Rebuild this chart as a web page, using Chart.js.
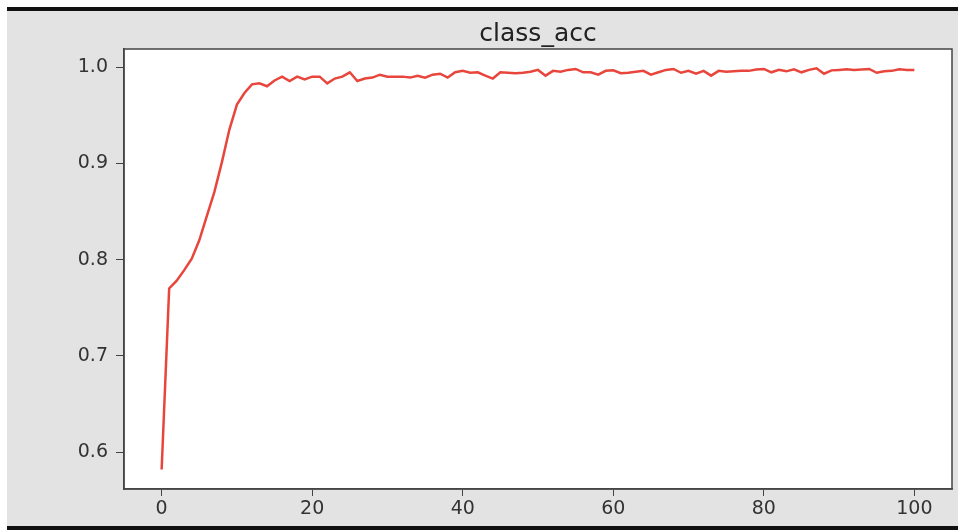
<!DOCTYPE html>
<html>
<head>
<meta charset="utf-8">
<script src="https://cdn.jsdelivr.net/npm/chart.js@4"></script>
<style>
  body { margin: 0; background: #fff; }
  #frame { position: absolute; left: 7px; top: 7px; width: 951px; height: 523px; box-sizing: border-box;
           background: #e3e3e3; border-top: 4px solid #111; border-bottom: 4px solid #111; }
  #myChart { position: absolute; left: 0; top: 0; }
</style>
</head>
<body>
<div id="frame"></div>
<canvas id="myChart" width="958" height="530"></canvas>
<script>
// class_acc per epoch (0..100)
var classAcc = [
  0.582, 0.770, 0.778, 0.789, 0.801, 0.820, 0.845, 0.870, 0.901, 0.935,
  0.961, 0.973, 0.982, 0.983, 0.980, 0.986, 0.990, 0.9855, 0.990, 0.987,
  0.990, 0.990, 0.983, 0.988, 0.990, 0.9945, 0.9855, 0.988, 0.989, 0.992,
  0.990, 0.990, 0.990, 0.989, 0.991, 0.989, 0.992, 0.993, 0.989, 0.9945,
  0.996, 0.994, 0.9945, 0.991, 0.988, 0.9945, 0.994, 0.9935, 0.994, 0.995,
  0.997, 0.991, 0.996, 0.995, 0.997, 0.998, 0.9945, 0.9945, 0.992, 0.996,
  0.9965, 0.9935, 0.994, 0.995, 0.996, 0.992, 0.9945, 0.997, 0.998, 0.994,
  0.996, 0.993, 0.996, 0.991, 0.996, 0.995, 0.9955, 0.996, 0.996, 0.9975,
  0.998, 0.9945, 0.997, 0.9955, 0.9976, 0.9945, 0.997, 0.9986, 0.993, 0.9965,
  0.997, 0.9976, 0.997, 0.9975, 0.998, 0.994, 0.9955, 0.996, 0.9976, 0.997,
  0.997
];
var xTicks = [0, 20, 40, 60, 80, 100];
var yTicks = [0.6, 0.7, 0.8, 0.9, 1.0];
var chartTitle = 'class_acc';

var points = classAcc.map(function (v, i) { return { x: i, y: v }; });

// white plot face, the four spines and a title centred over the axes, like matplotlib
var axesBox = {
  id: 'axesBox',
  beforeDraw: function (chart) {
    var a = chart.chartArea, c = chart.ctx;
    c.save();
    c.fillStyle = '#fff';
    c.fillRect(a.left, a.top, a.right - a.left, a.bottom - a.top);
    c.restore();
  },
  afterDraw: function (chart) {
    var a = chart.chartArea, c = chart.ctx;
    c.save();
    c.strokeStyle = '#444';
    c.lineWidth = 1.5;
    c.strokeRect(a.left, a.top, a.right - a.left, a.bottom - a.top);
    c.fillStyle = '#222';
    c.font = '25px "DejaVu Sans"';
    c.textAlign = 'center';
    c.textBaseline = 'alphabetic';
    c.fillText(chartTitle, (a.left + a.right) / 2, a.top - 8);
    c.restore();
  }
};

var ctx = document.getElementById('myChart').getContext('2d');
var myChart = new Chart(ctx, {
  type: 'line',
  data: {
    datasets: [{
      label: chartTitle,
      data: points,
      borderColor: '#e8463c',
      borderWidth: 2.5,
      pointRadius: 0,
      tension: 0,
      fill: false
    }]
  },
  options: {
    responsive: false,
    animation: false,
    layout: { padding: { left: 0, right: 6, top: 49, bottom: 0 } },
    plugins: {
      legend: { display: false },
      tooltip: { enabled: false },
      title: { display: false }
    },
    scales: {
      x: {
        type: 'linear',
        min: -5,
        max: 105,
        afterBuildTicks: function (s) { s.ticks = xTicks.map(function (v) { return { value: v }; }); },
        afterFit: function (s) { s.height = 41; },
        grid: { drawOnChartArea: false, drawTicks: true, tickLength: 7, color: '#444' },
        border: { display: true, color: '#444', width: 1.5 },
        ticks: { color: '#333', padding: 2, maxRotation: 0, font: { family: 'DejaVu Sans', size: 19 },
                 callback: function (v) { return String(v); } }
      },
      y: {
        min: 0.5617,
        max: 1.0187,
        afterBuildTicks: function (s) { s.ticks = yTicks.map(function (v) { return { value: v }; }); },
        afterFit: function (s) { s.width = 124; },
        grid: { drawOnChartArea: false, drawTicks: true, tickLength: 8, color: '#444' },
        border: { display: true, color: '#444', width: 1.5 },
        ticks: { color: '#333', padding: 8, font: { family: 'DejaVu Sans', size: 19 },
                 callback: function (v) { return v.toFixed(1); } }
      }
    }
  },
  plugins: [axesBox]
});
</script>
</body>
</html>
